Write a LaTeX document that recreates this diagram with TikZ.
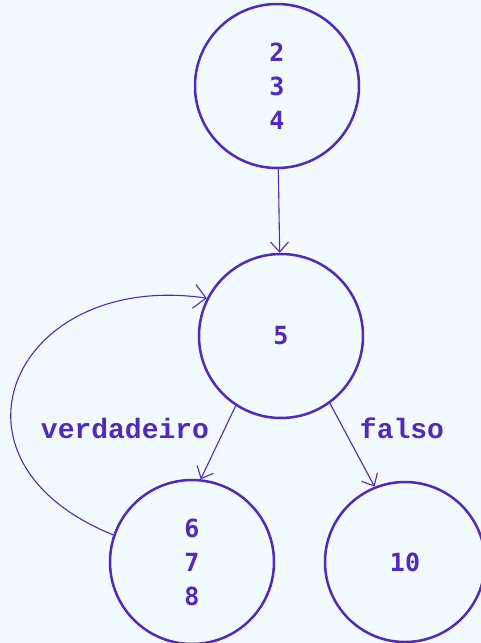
\documentclass[tikz,border=0pt]{standalone}
\usepackage{fontspec}
\newfontfamily\numfont{DejaVu Sans Mono}
\newfontfamily\labfont{Liberation Mono}
\usetikzlibrary{arrows.meta}
\definecolor{bgc}{HTML}{F0FAFF}
\definecolor{ink}{HTML}{5228BE}
\tikzset{
  state/.style={circle, draw=ink, line width=2.5pt, minimum size=164pt, inner sep=0pt,
    text=ink, align=center, font=\numfont\bfseries\fontsize{25}{34}\selectfont},
  conn/.style={draw=ink, line width=1.1pt, -{Straight Barb[length=10pt,width=18pt,line width=1.1pt]}},
  lab/.style={text=ink, font=\labfont\bfseries\fontsize{28}{30}\selectfont, inner sep=0pt}
}
\begin{document}
\begin{tikzpicture}[x=1pt,y=-1pt]
\fill[bgc] (0,0) rectangle (481,643);
\useasboundingbox (0,0) rectangle (481,643);
\node[state] (A) at (277,86) {2\\3\\4};
\node[state] (B) at (281,336) {5};
\node[state] (C) at (192,562) {6\\7\\8};
\node[state, minimum size=160pt] (D) at (405,562) {10};
\draw[conn] (A) -- (B);
\draw[conn] (B.237) -- (C.84);
\draw[conn] (B.306) -- (D.112);
\draw[conn, -{Straight Barb[length=12pt,width=24pt,line width=1.1pt]}] (C.161) .. controls (-72,460) and (15,270) .. (B.153);
\node[lab] (v) at (125,428) {verdadeiro};
\node[lab] (f) at (402,428) {falso};
\end{tikzpicture}
\end{document}
